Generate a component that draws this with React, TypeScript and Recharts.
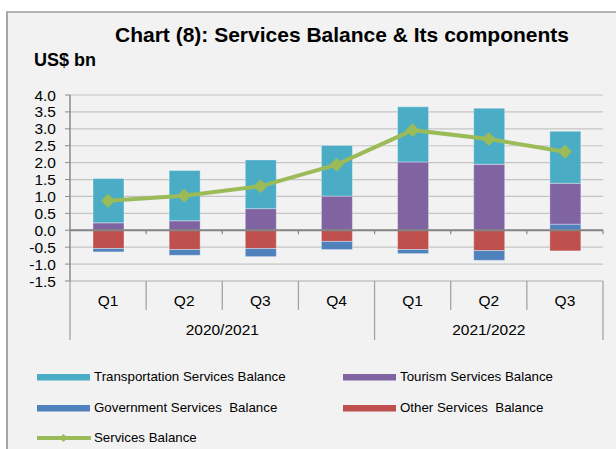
import React from "react";
import {
  ComposedChart,
  Bar,
  Line,
  XAxis,
  YAxis,
  CartesianGrid,
  ReferenceLine,
} from "recharts";

// Quarterly services balance and its components, US$ bn
const quarters = ["Q1", "Q2", "Q3", "Q4", "Q1", "Q2", "Q3"];
const fiscalYears = [
  "2020/2021",
  "2020/2021",
  "2020/2021",
  "2020/2021",
  "2021/2022",
  "2021/2022",
  "2021/2022",
];
const transportation = [1.31, 1.49, 1.44, 1.5, 1.63, 1.66, 1.54];
const tourism = [0.22, 0.28, 0.64, 1.01, 2.02, 1.95, 1.21];
const government = [-0.1, -0.17, -0.24, -0.24, -0.12, -0.29, 0.18];
const other = [-0.54, -0.57, -0.54, -0.33, -0.57, -0.6, -0.61];
const servicesBalance = [0.87, 1.02, 1.3, 1.94, 2.96, 2.7, 2.32];
const yTicks = [-1.5, -1, -0.5, 0, 0.5, 1, 1.5, 2, 2.5, 3, 3.5, 4];

const data = quarters.map((q, i) => ({
  q,
  year: fiscalYears[i],
  transportation: transportation[i],
  tourism: tourism[i],
  government: government[i],
  other: other[i],
  balance: servicesBalance[i],
}));

const FONT = '"Liberation Sans", Arial, sans-serif';
const C_TRANSPORT = "#4bacc6";
const C_TOURISM = "#8064a2";
const C_GOV = "#4f81bd";
const C_OTHER = "#c0504d";
const C_BALANCE = "#9bbb59";
const SEP = "#a3a3a3";

const legendItems = [
  { name: "Transportation Services Balance", color: C_TRANSPORT, kind: "bar", col: 0, row: 0 },
  { name: "Tourism Services Balance", color: C_TOURISM, kind: "bar", col: 1, row: 0 },
  { name: "Government Services  Balance", color: C_GOV, kind: "bar", col: 0, row: 1 },
  { name: "Other Services  Balance", color: C_OTHER, kind: "bar", col: 1, row: 1 },
  { name: "Services Balance", color: C_BALANCE, kind: "line", col: 0, row: 2 },
];

// Two-level category axis: quarter labels plus fiscal-year groups with separators
const CategoryTick = (props: any) => {
  const { x, y, payload } = props;
  const idx: number = payload.index;
  const off: number = payload.offset || 38;
  const yr = fiscalYears[idx];
  const isGroupStart = idx === 0 || fiscalYears[idx - 1] !== yr;
  const isLast = idx === fiscalYears.length - 1;
  let groupCount = 0;
  for (let k = idx; k < fiscalYears.length && fiscalYears[k] === yr; k++) groupCount++;
  const left = x - off;
  const right = x + off;
  return (
    <g>
      <text
        x={x}
        y={y + 25}
        textAnchor="middle"
        fontFamily={FONT}
        fontSize={15.5}
        fill="#000"
      >
        {payload.value}
      </text>
      <line
        x1={left}
        x2={left}
        y1={y}
        y2={isGroupStart ? y + 59 : y + 29}
        stroke={SEP}
        strokeWidth={1.3}
      />
      {isLast && (
        <line x1={right} x2={right} y1={y} y2={y + 59} stroke={SEP} strokeWidth={1.3} />
      )}
      {isGroupStart && (
        <text
          x={left + groupCount * off}
          y={y + 54}
          textAnchor="middle"
          fontFamily={FONT}
          fontSize={15.5}
          fill="#000"
        >
          {yr}
        </text>
      )}
    </g>
  );
};

// Zero line with small tick marks at category boundaries
const ZeroLine = (props: any) => {
  const { x1, x2, y1 } = props;
  const n = quarters.length;
  const step = (x2 - x1) / n;
  const marks = [];
  for (let k = 1; k <= n; k++) {
    const xx = x1 + k * step;
    marks.push(
      <line key={k} x1={xx} x2={xx} y1={y1} y2={y1 + 4} stroke="#858585" strokeWidth={1.2} />
    );
  }
  return (
    <g>
      <line x1={x1} x2={x2} y1={y1} y2={y1} stroke="#858585" strokeWidth={2} />
      {marks}
    </g>
  );
};

const Diamond = (props: any) => {
  const { cx, cy } = props;
  if (cx == null || cy == null) return null;
  const r = 6.5;
  return (
    <path
      d={`M${cx},${cy - r}L${cx + r},${cy}L${cx},${cy + r}L${cx - r},${cy}Z`}
      fill={C_BALANCE}
      stroke={C_BALANCE}
    />
  );
};

export default function App() {
  return (
    <div
      style={{
        position: "absolute",
        left: 0,
        top: 0,
        width: 616,
        height: 449,
        background: "#ffffff",
        overflow: "hidden",
        fontFamily: FONT,
      }}
    >
      <div
        style={{
          position: "absolute",
          left: 6,
          top: 11,
          right: -2,
          bottom: -2,
          background: "#f2f2f2",
          borderLeft: "2px solid #a6a6a6",
          borderTop: "2px solid #b3b3b3",
        }}
      />
      <div
        style={{
          position: "absolute",
          left: 0,
          width: 684,
          top: 22,
          textAlign: "center",
          fontSize: 21,
          fontWeight: "bold",
          lineHeight: "26px",
          color: "#000",
        }}
      >
        Chart (8): Services Balance &amp; Its components
      </div>
      <div
        style={{
          position: "absolute",
          left: 34,
          top: 49,
          fontSize: 18,
          fontWeight: "bold",
          lineHeight: "22px",
          color: "#000",
        }}
      >
        US$ bn
      </div>
      <div style={{ position: "absolute", left: 0, top: 0 }}>
        <ComposedChart
          width={616}
          height={449}
          data={data}
          stackOffset="sign"
          margin={{ top: 95, right: 13, left: 0, bottom: 108 }}
        >
          <CartesianGrid vertical={false} stroke="#c4c4c4" strokeWidth={1.2} />
          <XAxis
            dataKey="q"
            height={60}
            interval={0}
            tickLine={false}
            tickSize={0}
            tickMargin={0}
            axisLine={{ stroke: "#c4c4c4", strokeWidth: 1.2 }}
            tick={<CategoryTick />}
          />
          <YAxis
            width={70}
            domain={[-1.5, 4]}
            ticks={yTicks}
            interval={0}
            tickSize={5}
            tickMargin={9}
            tickFormatter={(v: number) => v.toFixed(1)}
            axisLine={{ stroke: "#8a8a8a", strokeWidth: 1.5 }}
            tickLine={{ stroke: "#8a8a8a" }}
            tick={{ fill: "#000", fontSize: 15.5, fontFamily: FONT }}
          />
          <Bar dataKey="other" stackId="s" fill={C_OTHER} barSize={31} stroke="rgba(255,255,255,0.35)" isAnimationActive={false} />
          <Bar dataKey="government" stackId="s" fill={C_GOV} barSize={31} stroke="rgba(255,255,255,0.35)" isAnimationActive={false} />
          <Bar dataKey="tourism" stackId="s" fill={C_TOURISM} barSize={31} stroke="rgba(255,255,255,0.35)" isAnimationActive={false} />
          <Bar dataKey="transportation" stackId="s" fill={C_TRANSPORT} barSize={31} stroke="rgba(255,255,255,0.35)" isAnimationActive={false} />
          <ReferenceLine y={0} shape={<ZeroLine />} />
          <Line
            dataKey="balance"
            type="linear"
            stroke={C_BALANCE}
            strokeWidth={4}
            dot={<Diamond />}
            activeDot={false}
            isAnimationActive={false}
          />
        </ComposedChart>
      </div>
      {legendItems.map((it) => {
        const sx = it.col === 0 ? 37 : 343;
        const cy = 377 + it.row * 30.5;
        return (
          <div key={it.name}>
            <svg
              style={{ position: "absolute", left: sx, top: cy - 7 }}
              width={54}
              height={14}
            >
              {it.kind === "bar" ? (
                <rect x={0} y={4} width={53} height={6.5} fill={it.color} />
              ) : (
                <g>
                  <line x1={0} x2={53} y1={7} y2={7} stroke={it.color} strokeWidth={4} strokeLinecap="round" />
                  <path d="M26.5,3L30.5,7L26.5,11L22.5,7Z" fill={it.color} />
                </g>
              )}
            </svg>
            <div
              style={{
                position: "absolute",
                left: sx + 57,
                top: cy - 9,
                fontSize: 13.3,
                lineHeight: "18px",
                color: "#000",
                whiteSpace: "pre",
              }}
            >
              {it.name}
            </div>
          </div>
        );
      })}
    </div>
  );
}
